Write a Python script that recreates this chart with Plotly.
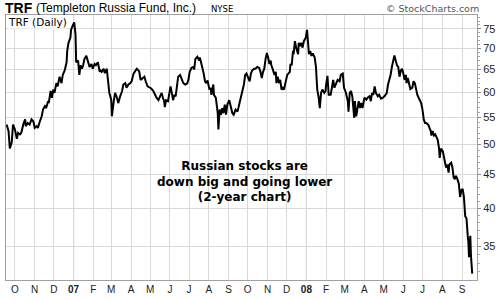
import plotly.graph_objects as go

# ---- data ----
dates = [
    "2006-09-18", "2006-09-21", "2006-09-23", "2006-09-26", "2006-09-28", "2006-10-01", "2006-10-04",
    "2006-10-06", "2006-10-09", "2006-10-11", "2006-10-14", "2006-10-17", "2006-10-18", "2006-10-21",
    "2006-10-24", "2006-10-27", "2006-10-30", "2006-11-01", "2006-11-04", "2006-11-06", "2006-11-09",
    "2006-11-12", "2006-11-14", "2006-11-17", "2006-11-19", "2006-11-22", "2006-11-23", "2006-11-26",
    "2006-11-28", "2006-11-30", "2006-12-02", "2006-12-05", "2006-12-07", "2006-12-10", "2006-12-13",
    "2006-12-15", "2006-12-18", "2006-12-21", "2006-12-22", "2006-12-24", "2006-12-27", "2006-12-28",
    "2006-12-31", "2007-01-02", "2007-01-04", "2007-01-05", "2007-01-08", "2007-01-10", "2007-01-12",
    "2007-01-14", "2007-01-16", "2007-01-18", "2007-01-21", "2007-01-23", "2007-01-26", "2007-01-29",
    "2007-01-31", "2007-02-03", "2007-02-05", "2007-02-08", "2007-02-11",
    "2007-02-12", "2007-02-14", "2007-02-17", "2007-02-19", "2007-02-22", "2007-02-24", "2007-02-26",
    "2007-03-01", "2007-03-02", "2007-03-05", "2007-03-07", "2007-03-10", "2007-03-12", "2007-03-15",
    "2007-03-18", "2007-03-20", "2007-03-23", "2007-03-25", "2007-03-28", "2007-03-31", "2007-04-02",
    "2007-04-05", "2007-04-07", "2007-04-10", "2007-04-13", "2007-04-14", "2007-04-16", "2007-04-19",
    "2007-04-22", "2007-04-24", "2007-04-27", "2007-05-01", "2007-05-03", "2007-05-06", "2007-05-09",
    "2007-05-11", "2007-05-14", "2007-05-17", "2007-05-19", "2007-05-21", "2007-05-23", "2007-05-24",
    "2007-05-26", "2007-05-29", "2007-05-31", "2007-06-02", "2007-06-04", "2007-06-06", "2007-06-08",
    "2007-06-10", "2007-06-12", "2007-06-14", "2007-06-17", "2007-06-19", "2007-06-22", "2007-06-25",
    "2007-06-28", "2007-06-30", "2007-07-02", "2007-07-05", "2007-07-08",
    "2007-07-09", "2007-07-11", "2007-07-14", "2007-07-17", "2007-07-18", "2007-07-20", "2007-07-22",
    "2007-07-24", "2007-07-26", "2007-07-28", "2007-07-30", "2007-07-31", "2007-08-02", "2007-08-04",
    "2007-08-05", "2007-08-08", "2007-08-09", "2007-08-12", "2007-08-13", "2007-08-15", "2007-08-16",
    "2007-08-18", "2007-08-20", "2007-08-22", "2007-08-24", "2007-08-26", "2007-08-28", "2007-08-30",
    "2007-09-02", "2007-09-04", "2007-09-07", "2007-09-09", "2007-09-12", "2007-09-15", "2007-09-17",
    "2007-09-19", "2007-09-21", "2007-09-23", "2007-09-25", "2007-09-27", "2007-09-29", "2007-10-02",
    "2007-10-04", "2007-10-06", "2007-10-08", "2007-10-11", "2007-10-13", "2007-10-16", "2007-10-19",
    "2007-10-21", "2007-10-23", "2007-10-25", "2007-10-27", "2007-10-29", "2007-10-31", "2007-11-02",
    "2007-11-04", "2007-11-06", "2007-11-07", "2007-11-09", "2007-11-12", "2007-11-14", "2007-11-15",
    "2007-11-17", "2007-11-19", "2007-11-21", "2007-11-23", "2007-11-25", "2007-11-27", "2007-11-29",
    "2007-12-02",
    "2007-12-06", "2007-12-07", "2007-12-09", "2007-12-11", "2007-12-12", "2007-12-14", "2007-12-16",
    "2007-12-19", "2007-12-20", "2007-12-22", "2007-12-24", "2007-12-26", "2007-12-28", "2007-12-31",
    "2008-01-02", "2008-01-03", "2008-01-05", "2008-01-07", "2008-01-09", "2008-01-11", "2008-01-14",
    "2008-01-16", "2008-01-18", "2008-01-20", "2008-01-22", "2008-01-24", "2008-01-26", "2008-01-29",
    "2008-01-31", "2008-02-01", "2008-02-03", "2008-02-05", "2008-02-08", "2008-02-10", "2008-02-12",
    "2008-02-14", "2008-02-17", "2008-02-19", "2008-02-22", "2008-02-24", "2008-02-27", "2008-02-29",
    "2008-03-02", "2008-03-03", "2008-03-06", "2008-03-07", "2008-03-09", "2008-03-11", "2008-03-13",
    "2008-03-14", "2008-03-16", "2008-03-17", "2008-03-19", "2008-03-20", "2008-03-23", "2008-03-25",
    "2008-03-27", "2008-03-29", "2008-04-01", "2008-04-04", "2008-04-06", "2008-04-09", "2008-04-11",
    "2008-04-13", "2008-04-15", "2008-04-17", "2008-04-19", "2008-04-22", "2008-04-24", "2008-04-27",
    "2008-04-30", "2008-05-03", "2008-05-06", "2008-05-08", "2008-05-10", "2008-05-12", "2008-05-14",
    "2008-05-16", "2008-05-18", "2008-05-20", "2008-05-22", "2008-05-24", "2008-05-26", "2008-05-28",
    "2008-05-30", "2008-06-01", "2008-06-03", "2008-06-05", "2008-06-06", "2008-06-08", "2008-06-10",
    "2008-06-12", "2008-06-15", "2008-06-17", "2008-06-19", "2008-06-21", "2008-06-23", "2008-06-25",
    "2008-06-27", "2008-06-29", "2008-07-01", "2008-07-03", "2008-07-05", "2008-07-07", "2008-07-10",
    "2008-07-12", "2008-07-14", "2008-07-15", "2008-07-17", "2008-07-19", "2008-07-21", "2008-07-23",
    "2008-07-25", "2008-07-27", "2008-07-28", "2008-07-30", "2008-08-02", "2008-08-04", "2008-08-06",
    "2008-08-07", "2008-08-09", "2008-08-11", "2008-08-12", "2008-08-15", "2008-08-17", "2008-08-19",
    "2008-08-21", "2008-08-22", "2008-08-24", "2008-08-27", "2008-08-29", "2008-08-31", "2008-09-02",
    "2008-09-04", "2008-09-06", "2008-09-08", "2008-09-10", "2008-09-11", "2008-09-12", "2008-09-14",
    "2008-09-15", "2008-09-17",
]
prices = [
    53.6, 52.4, 49.3, 50.4, 53.6, 52.7, 51.0,
    52.1, 51.8, 52.1, 53.6, 54.6, 53.3, 53.9,
    53.6, 54.6, 54.2, 53.0, 53.3, 53.0, 54.2,
    55.2, 56.5, 57.2, 56.8, 58.2, 57.8, 60.3,
    58.9, 60.6, 59.9, 62.0, 61.3, 63.4, 62.0,
    63.8, 64.8, 66.7, 69.4, 71.4, 72.7, 74.7,
    76.0, 76.7, 73.5, 66.7, 67.1, 63.8, 66.0,
    65.2, 66.0, 67.5, 68.2, 67.1, 65.6, 66.3,
    65.2, 66.3, 66.0, 66.7, 64.5,
    64.8, 64.5, 65.2, 64.2, 65.2, 61.7, 59.9,
    58.5, 55.2, 58.2, 59.9, 58.9, 57.8, 59.2,
    60.3, 61.7, 62.0, 61.0, 61.7, 62.0, 62.4,
    64.1, 64.5, 65.2, 64.8, 64.5, 62.7, 63.1,
    63.4, 62.4, 61.3, 61.0, 60.8, 60.3, 59.2,
    58.9, 58.4, 59.2, 59.9, 58.9, 58.2, 57.0,
    58.4, 58.2, 60.3, 61.3, 59.9, 58.4, 59.5,
    59.2, 61.3, 63.4, 63.8, 63.1, 62.0, 61.7,
    61.9, 62.7, 64.5, 65.4, 65.6,
    65.0, 67.5, 68.0, 67.1, 67.8, 66.7, 65.2,
    64.1, 62.4, 62.0, 62.6, 61.7, 60.6, 61.0,
    59.5, 61.7, 59.5, 58.9, 57.5, 55.8, 52.7,
    56.5, 55.5, 56.8, 55.8, 57.5, 55.5, 57.5,
    58.4, 57.5, 55.8, 55.5, 56.5, 56.1, 57.2,
    58.9, 59.9, 60.6, 61.7, 63.8, 64.1, 63.1,
    62.4, 64.1, 64.8, 65.2, 65.2, 65.6, 65.4,
    64.5, 63.1, 64.5, 65.2, 67.5, 68.9, 67.8,
    66.3, 67.1, 66.0, 65.2, 63.8, 64.5, 62.0,
    63.4, 62.0, 62.7, 60.6, 61.0, 60.6, 62.0,
    63.8,
    64.5, 66.3, 66.0, 69.4, 68.6, 71.8, 70.2,
    68.6, 71.4, 70.6, 71.4, 70.2, 71.8, 72.7,
    74.7, 71.8, 68.6, 69.4, 68.2, 68.8, 67.8,
    65.6, 60.6, 59.2, 56.8, 59.9, 60.6, 59.9,
    60.3, 61.7, 63.6, 59.5, 59.5, 61.0, 62.7,
    61.0, 62.0, 62.7, 62.4, 63.8, 64.1, 61.0,
    60.3, 59.9, 58.2, 56.1, 59.9, 60.3, 59.2,
    57.2, 54.9, 58.2, 55.2, 55.8, 58.2, 56.8,
    57.8, 56.8, 58.9, 58.5, 58.9, 59.2, 58.2,
    59.9, 59.5, 61.3, 59.9, 59.2, 59.5, 58.7,
    58.9, 59.3, 59.9, 61.7, 62.7, 63.8, 65.6,
    67.1, 68.3, 67.1, 66.0, 65.6, 63.4, 64.8,
    65.2, 64.1, 62.7, 63.8, 62.0, 63.1, 61.7,
    60.7, 61.0, 62.4, 62.0, 60.6, 59.5, 58.9,
    58.2, 57.8, 56.5, 54.6, 53.9, 53.9, 53.6,
    53.0, 52.4, 51.6, 52.4, 51.6, 51.8, 51.3,
    50.8, 49.3, 47.7, 49.3, 48.8, 47.7, 46.6,
    46.1, 46.6, 45.3, 46.6, 46.9, 46.1, 44.5,
    44.3, 44.8, 44.5, 43.6, 41.6, 42.6, 42.8,
    41.6, 38.9, 38.6, 36.3, 35.5, 33.7, 36.3,
    33.9, 31.8,
]

month_ticks = [
    "2006-10-01", "2006-11-01", "2006-12-01", "2007-01-01", "2007-02-01", "2007-03-01",
    "2007-04-01", "2007-05-01", "2007-06-01", "2007-07-01", "2007-08-01", "2007-09-01",
    "2007-10-01", "2007-11-01", "2007-12-01", "2008-01-01", "2008-02-01", "2008-03-01",
    "2008-04-01", "2008-05-01", "2008-06-01", "2008-07-01", "2008-08-01", "2008-09-01",
]
month_labels = [
    "O", "N", "D", "<b>07</b>", "F", "M", "A", "M", "J", "J", "A", "S",
    "O", "N", "D", "<b>08</b>", "F", "M", "A", "M", "J", "J", "A", "S",
]
year_lines = ["2007-01-01", "2008-01-01"]
price_ticks = [35, 40, 45, 50, 55, 60, 65, 70, 75]
minor_price_ticks = [v for v in range(32, 79) if v % 5 != 0]

# ---- layout geometry (pixels) ----
W, H = 500, 300
L, R, T, B = 5, 23, 15, 13
PW, PH = W - L - R, H - T - B


def px(xp):
    return (xp - L) / PW


def py(yp):
    return (H - B - yp) / PH


fig = go.Figure()
fig.add_trace(go.Scatter(
    x=dates, y=prices, mode="lines",
    line=dict(color="#000000", width=2),
    hoverinfo="skip", showlegend=False,
))

grid = "#d9d9d9"
for d in year_lines:
    fig.add_shape(type="line", xref="x", yref="paper", x0=d, x1=d, y0=0, y1=1,
                  line=dict(color="#a8a8a8", width=1), layer="below")

fig.update_layout(
    width=W, height=H,
    margin=dict(l=L, r=R, t=T, b=B, pad=0),
    paper_bgcolor="white", plot_bgcolor="white",
    showlegend=False,
    xaxis=dict(
        type="date",
        range=["2006-09-17", "2008-09-24 12:00"],
        tickmode="array", tickvals=month_ticks, ticktext=month_labels,
        showgrid=True, gridcolor=grid, gridwidth=1,
        ticks="", ticklen=0,
        tickfont=dict(family="Liberation Sans, Arial, sans-serif", size=10, color="#222"),
        showline=True, linecolor="#a0a0a0", linewidth=1, mirror=True,
        zeroline=False, fixedrange=True,
    ),
    yaxis=dict(
        type="log", side="right",
        range=[1.4928, 1.8960],
        tickmode="array", tickvals=price_ticks,
        ticktext=[str(v) for v in price_ticks],
        showgrid=True, gridcolor=grid, gridwidth=1,
        ticks="outside", ticklen=3, tickcolor="#888",
        minor=dict(tickmode="array", tickvals=minor_price_ticks, ticks="outside",
                   ticklen=2, tickcolor="#aaa", showgrid=False),
        tickfont=dict(family="Liberation Sans, Arial, sans-serif", size=11, color="#222"),
        showline=True, linecolor="#a0a0a0", linewidth=1, mirror=True,
        zeroline=False, fixedrange=True,
    ),
)

ann = []
ann.append(dict(text="<b>TRF</b>", x=px(2), y=py(7.5), xanchor="left", yanchor="middle",
                font=dict(family="Liberation Sans, Arial, sans-serif", size=14, color="#000")))
ann.append(dict(text="(Templeton Russia Fund, Inc.)", x=px(33), y=py(8), xanchor="left",
                yanchor="middle",
                font=dict(family="Liberation Sans, Arial, sans-serif", size=12, color="#000")))
ann.append(dict(text="NYSE", x=px(208), y=py(8.5), xanchor="left", yanchor="middle",
                font=dict(family="DejaVu Sans, Verdana, sans-serif", size=8.5, color="#000")))
ann.append(dict(text="© StockCharts.com", x=px(481), y=py(8), xanchor="right",
                yanchor="middle",
                font=dict(family="DejaVu Sans, Verdana, sans-serif", size=9.5, color="#555")))
ann.append(dict(text="TRF (Daily)", x=px(6), y=py(22.5), xanchor="left", yanchor="middle",
                bgcolor="white", borderpad=0,
                font=dict(family="DejaVu Sans, Verdana, sans-serif", size=10.5, color="#000")))
ann.append(dict(text="<b>Russian stocks are<br>down big and going lower<br>(2-year chart)</b>",
                x=px(244), y=py(186), xanchor="center", yanchor="middle", align="center",
                font=dict(family="DejaVu Sans, Verdana, sans-serif", size=12, color="#000")))
for a in ann:
    a.update(xref="paper", yref="paper", showarrow=False)
fig.update_layout(annotations=ann)

fig.write_html("out.html")
